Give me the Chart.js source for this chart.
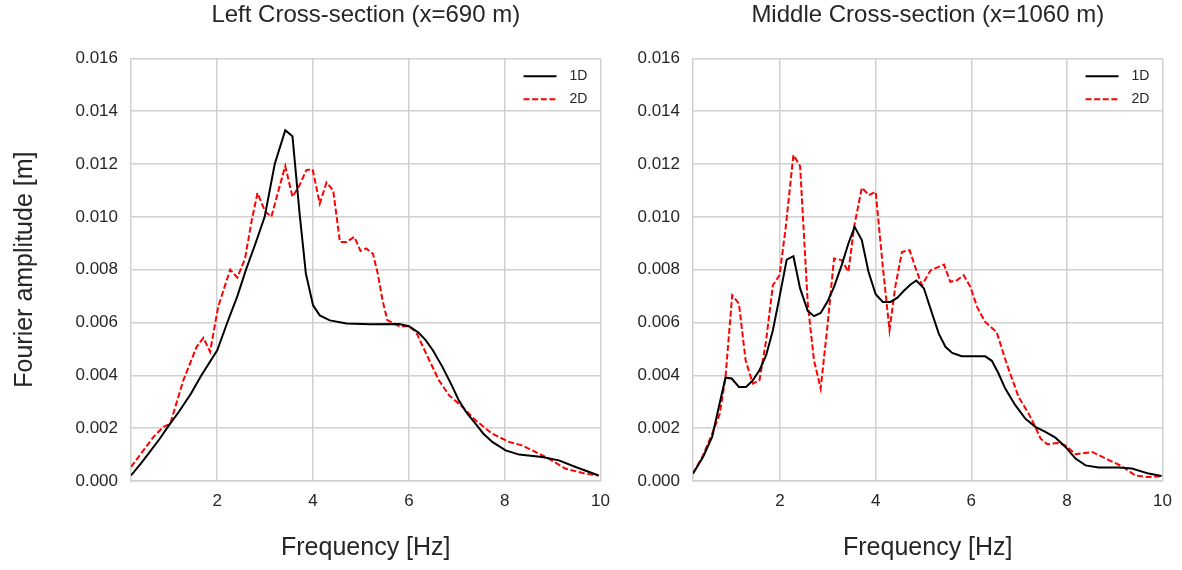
<!DOCTYPE html>
<html>
<head>
<meta charset="utf-8">
<script src="https://cdn.jsdelivr.net/npm/chart.js@4/dist/chart.umd.min.js"></script>
<style>
  html, body { margin: 0; padding: 0; background: #fff; }
  #wrap { position: relative; width: 1182px; height: 570px; }
  .panel { position: absolute; top: 0; height: 570px; }
  #left { left: 0; width: 620px; }
  #right { left: 620px; width: 562px; }
</style>
</head>
<body>
<div id="wrap">
  <div class="panel" id="left"><canvas id="leftChart" width="620" height="570"></canvas></div>
  <div class="panel" id="right"><canvas id="rightChart" width="562" height="570"></canvas></div>
</div>
<script>
// values (frequency in Hz, amplitude in m)
const xTicks = [2, 4, 6, 8, 10];
const yTicks = [0, 0.002, 0.004, 0.006, 0.008, 0.010, 0.012, 0.014, 0.016];

const leftFreq1D = [0.2, 0.4, 0.6, 0.8, 0.95, 1.2, 1.45, 1.67, 2.0, 2.21, 2.42, 2.6, 2.8, 2.99, 3.2, 3.42, 3.57, 3.72, 3.85, 4.0, 4.14, 4.35, 4.7, 5.2, 5.8, 6.0, 6.2, 6.35, 6.5, 6.7, 6.9, 7.04, 7.2, 7.39, 7.55, 7.74, 8.02, 8.3, 8.78, 9.13, 9.48, 9.96];
const left1D = [0.00021, 0.00065, 0.00112, 0.0016, 0.002, 0.00262, 0.0033, 0.004, 0.00495, 0.006, 0.007, 0.008, 0.009, 0.01, 0.012, 0.01328, 0.01305, 0.0101, 0.00785, 0.00665, 0.00627, 0.00608, 0.00596, 0.00593, 0.00594, 0.00586, 0.00562, 0.00533, 0.00495, 0.00432, 0.0036, 0.00306, 0.0026, 0.00217, 0.0018, 0.00148, 0.00116, 0.001, 0.00091, 0.00078, 0.00053, 0.00021];

const leftFreq2D = [0.2, 0.67, 0.88, 1.02, 1.29, 1.57, 1.71, 1.85, 2.02, 2.27, 2.42, 2.58, 2.72, 2.84, 3.0, 3.13, 3.27, 3.42, 3.57, 3.72, 3.86, 3.99, 4.14, 4.28, 4.42, 4.56, 4.7, 4.86, 4.99, 5.11, 5.25, 5.35, 5.45, 5.55, 5.8, 6.0, 6.15, 6.36, 6.63, 6.84, 7.12, 7.39, 7.74, 8.09, 8.36, 8.64, 8.92, 9.26, 9.68, 9.96];
const left2D = [0.00053, 0.00167, 0.00205, 0.00217, 0.0038, 0.00508, 0.00542, 0.00489, 0.0066, 0.008, 0.0077, 0.00842, 0.00987, 0.0109, 0.0102, 0.01, 0.01095, 0.01192, 0.01076, 0.0112, 0.01177, 0.0118, 0.0105, 0.0113, 0.011, 0.00905, 0.00905, 0.00924, 0.00871, 0.0088, 0.0086, 0.00785, 0.00684, 0.00609, 0.00586, 0.00586, 0.00564, 0.00482, 0.0038, 0.00324, 0.0028, 0.0023, 0.00179, 0.00148, 0.00135, 0.0011, 0.00085, 0.00047, 0.00028, 0.00021];

const midFreq1D = [0.18, 0.39, 0.58, 0.72, 0.86, 0.99, 1.14, 1.29, 1.43, 1.57, 1.71, 1.85, 1.99, 2.14, 2.28, 2.42, 2.58, 2.71, 2.85, 2.99, 3.13, 3.29, 3.43, 3.56, 3.71, 3.85, 4.0, 4.15, 4.31, 4.45, 4.59, 4.73, 4.85, 5.01, 5.18, 5.32, 5.46, 5.6, 5.8, 6.01, 6.29, 6.43, 6.57, 6.71, 6.92, 7.13, 7.34, 7.55, 7.76, 7.97, 8.18, 8.39, 8.66, 9.08, 9.36, 9.71, 9.98];
const mid1D = [0.00028, 0.00091, 0.00167, 0.0028, 0.00391, 0.00388, 0.00356, 0.00356, 0.00381, 0.00419, 0.00476, 0.0057, 0.00697, 0.00838, 0.00851, 0.00729, 0.00644, 0.00624, 0.00636, 0.00678, 0.00735, 0.00817, 0.00899, 0.00962, 0.00912, 0.00792, 0.00707, 0.00678, 0.00678, 0.00693, 0.0072, 0.00744, 0.00759, 0.00729, 0.00634, 0.00558, 0.00508, 0.00485, 0.00472, 0.00472, 0.00472, 0.00455, 0.00407, 0.0035, 0.00287, 0.00236, 0.00205, 0.00186, 0.00164, 0.00129, 0.00085, 0.00059, 0.00051, 0.00051, 0.00047, 0.00028, 0.00019];

const midFreq2D = [0.18, 0.39, 0.58, 0.74, 0.86, 1.0, 1.14, 1.28, 1.43, 1.57, 1.71, 1.85, 1.99, 2.12, 2.28, 2.42, 2.58, 2.71, 2.85, 2.99, 3.13, 3.29, 3.43, 3.55, 3.71, 3.86, 4.0, 4.15, 4.29, 4.41, 4.55, 4.71, 4.85, 4.97, 5.15, 5.43, 5.56, 5.7, 5.84, 5.98, 6.12, 6.29, 6.53, 6.74, 6.99, 7.2, 7.34, 7.45, 7.59, 7.8, 7.97, 8.18, 8.53, 8.81, 9.15, 9.43, 9.71, 9.98];
const mid2D = [0.00028, 0.00097, 0.00179, 0.00255, 0.00394, 0.00703, 0.00672, 0.00457, 0.00369, 0.00381, 0.00533, 0.00741, 0.00779, 0.00962, 0.01234, 0.01192, 0.00672, 0.00457, 0.0035, 0.00583, 0.00842, 0.00836, 0.00792, 0.00962, 0.0111, 0.01082, 0.01095, 0.0081, 0.00571, 0.00735, 0.00867, 0.00874, 0.00798, 0.00741, 0.00798, 0.00819, 0.00754, 0.0076, 0.00779, 0.00735, 0.00659, 0.00602, 0.00564, 0.00444, 0.00318, 0.00255, 0.00205, 0.0016, 0.00139, 0.00144, 0.00135, 0.00101, 0.0011, 0.00085, 0.00056, 0.00021, 0.00015, 0.00018];

const FONT = '"Liberation Sans", Arial, sans-serif';
const TEXT = '#262626';
const GRID = '#d0d0d0';

const pts = (xs, ys) => xs.map((x, i) => ({ x: x, y: ys[i] }));

// legend drawn inside the plot, upper right, like matplotlib's
const insideLegend = {
  id: 'insideLegend',
  afterDatasetsDraw(chart) {
    const { ctx, chartArea } = chart;
    ctx.save();
    ctx.font = '14px ' + FONT;
    ctx.textBaseline = 'middle';
    ctx.textAlign = 'left';
    chart.data.datasets.forEach((ds, i) => {
      const y = chartArea.top + 18 + i * 23;
      ctx.beginPath();
      ctx.setLineDash(ds.borderDash || []);
      ctx.strokeStyle = ds.borderColor;
      ctx.lineWidth = ds.borderWidth;
      ctx.moveTo(chartArea.right - 77, y);
      ctx.lineTo(chartArea.right - 44, y);
      ctx.stroke();
      ctx.setLineDash([]);
      ctx.fillStyle = TEXT;
      ctx.fillText(ds.label, chartArea.right - 31, y);
    });
    ctx.restore();
  }
};

function makePanel(id, title, f1, a1, f2, a2, xMin, yAxisWidth, padRight, showYTitle) {
  const ctx = document.getElementById(id).getContext('2d');
  return new Chart(ctx, {
    type: 'line',
    data: {
      datasets: [
        { label: '1D', data: pts(f1, a1), borderColor: '#000000', borderWidth: 2 },
        { label: '2D', data: pts(f2, a2), borderColor: '#ff0000', borderWidth: 2, borderDash: [6, 2.6] }
      ]
    },
    options: {
      responsive: false,
      animation: false,
      parsing: false,
      elements: { point: { radius: 0 }, line: { tension: 0 } },
      layout: { padding: { left: 0, right: padRight, top: 0, bottom: 0 } },
      plugins: {
        legend: { display: false },
        tooltip: { enabled: false },
        title: {
          display: true,
          fullSize: false,
          text: title,
          color: TEXT,
          font: { family: FONT, size: 24, weight: 'normal' },
          padding: { top: 1, bottom: 28.5 }
        }
      },
      scales: {
        x: {
          type: 'linear',
          min: xMin,
          max: 10,
          afterBuildTicks: (s) => { s.ticks = xTicks.map(v => ({ value: v })); },
          afterFit: (s) => { s.height = 89; },
          ticks: { color: TEXT, font: { family: FONT, size: 17 }, padding: 10, maxRotation: 0 },
          grid: { color: GRID, lineWidth: 1.5, drawTicks: false },
          border: { color: GRID, width: 1.5 },
          title: {
            display: true,
            text: 'Frequency [Hz]',
            color: TEXT,
            font: { family: FONT, size: 25 },
            padding: { top: 0, bottom: 7 }
          }
        },
        y: {
          min: 0,
          max: 0.016,
          afterBuildTicks: (s) => { s.ticks = yTicks.map(v => ({ value: v })); },
          afterFit: (s) => { s.width = yAxisWidth; },
          ticks: { color: TEXT, font: { family: FONT, size: 17 }, padding: 13, callback: (v) => v.toFixed(3) },
          grid: { color: GRID, lineWidth: 1.5, drawTicks: false },
          border: { color: GRID, width: 1.5 },
          title: {
            display: showYTitle,
            text: 'Fourier amplitude [m]',
            color: TEXT,
            font: { family: FONT, size: 25 },
            padding: { top: 10, bottom: 0 }
          }
        }
      }
    },
    plugins: [insideLegend]
  });
}

makePanel('leftChart', 'Left Cross-section (x=690 m)', leftFreq1D, left1D, leftFreq2D, left2D, 0.2, 131, 19, true);
makePanel('rightChart', 'Middle Cross-section (x=1060 m)', midFreq1D, mid1D, midFreq2D, mid2D, 0.18, 73, 17, false);
</script>
</body>
</html>
